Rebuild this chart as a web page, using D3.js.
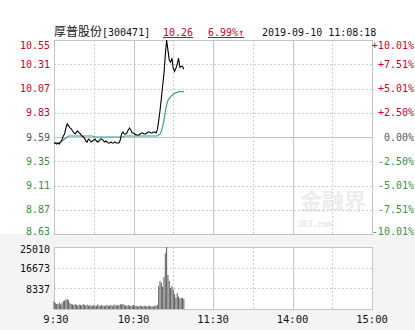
<!DOCTYPE html>
<html>
<head>
<meta charset="utf-8">
<script src="https://cdn.jsdelivr.net/npm/d3@7"></script>
<style>
  body { margin: 0; background: #f4f4f4; }
  svg text { font-family: "DejaVu Sans Mono", monospace; font-size: 10px; }
</style>
</head>
<body>
<div id="chart"></div>
<script>
// ---- data ----
var stockName = '厚普股份';
var stockCode = '[300471]';
var lastPrice = '10.26';
var lastChange = '6.99%↑';
var stamp = '2019-09-10 11:08:18';
var prevClose = 9.59;

var priceTicks = [10.55, 10.31, 10.07, 9.83, 9.59, 9.35, 9.11, 8.87, 8.63];
var pctTicks = ['+10.01%', '+7.51%', '+5.01%', '+2.50%', '0.00%', '-2.50%', '-5.01%', '-7.51%', '-10.01%'];
var volTicks = [25010, 16673, 8337];
var timeLabels = ['9:30', '10:30', '11:30', '14:00', '15:00'];
var timeMinutes = [0, 60, 120, 180, 240];

// one point per minute from 9:30
var price = [
	9.53, 9.53, 9.52, 9.53, 9.52, 9.54, 9.56, 9.60, 9.62, 9.68,
	9.72, 9.70, 9.68, 9.67, 9.65, 9.63, 9.62, 9.64, 9.65, 9.63,
	9.62, 9.60, 9.59, 9.58, 9.55, 9.54, 9.57, 9.56, 9.54, 9.55,
	9.56, 9.57, 9.55, 9.54, 9.55, 9.57, 9.57, 9.56, 9.54, 9.55,
	9.54, 9.53, 9.53, 9.54, 9.53, 9.53, 9.54, 9.53, 9.53, 9.53,
	9.56, 9.62, 9.64, 9.62, 9.62, 9.63, 9.66, 9.68, 9.66, 9.63,
	9.63, 9.62, 9.61, 9.61, 9.61, 9.62, 9.63, 9.63, 9.62, 9.62,
	9.63, 9.64, 9.64, 9.63, 9.63, 9.64, 9.64, 9.63, 9.66, 9.75,
	9.85, 9.97, 10.10, 10.22, 10.40, 10.55, 10.45, 10.35, 10.33, 10.37,
	10.27, 10.24, 10.27, 10.31, 10.37, 10.28, 10.29, 10.29, 10.26
];
var avgPrice = [
	9.53, 9.53, 9.53, 9.53, 9.53, 9.54, 9.55, 9.56, 9.57, 9.58,
	9.59, 9.60, 9.60, 9.60, 9.60, 9.60, 9.60, 9.60, 9.60, 9.60,
	9.60, 9.60, 9.60, 9.60, 9.60, 9.60, 9.60, 9.60, 9.60, 9.60,
	9.59, 9.59, 9.59, 9.59, 9.59, 9.59, 9.59, 9.59, 9.59, 9.59,
	9.59, 9.59, 9.59, 9.59, 9.59, 9.59, 9.59, 9.59, 9.59, 9.59,
	9.59, 9.59, 9.59, 9.60, 9.60, 9.60, 9.60, 9.60, 9.60, 9.60,
	9.60, 9.60, 9.60, 9.60, 9.60, 9.60, 9.60, 9.60, 9.60, 9.60,
	9.60, 9.60, 9.60, 9.60, 9.60, 9.60, 9.60, 9.60, 9.60, 9.61,
	9.62, 9.65, 9.69, 9.76, 9.84, 9.91, 9.95, 9.97, 9.99, 10.00,
	10.01, 10.02, 10.03, 10.03, 10.04, 10.04, 10.04, 10.04, 10.04
];
var volume = [
	3100, 2400, 2000, 2000, 2600, 1800, 2400, 3200, 3400, 3800,
	4000, 3600, 2400, 2000, 1800, 1600, 2000, 1600, 1400, 1800,
	1600, 1400, 2000, 1600, 1400, 1800, 1200, 1600, 1400, 1200,
	1600, 1400, 1200, 1800, 1400, 1200, 1600, 1400, 1200, 1400,
	1600, 1200, 1400, 1600, 1200, 1400, 1800, 1400, 1600, 1400,
	2000, 1800, 2000, 1600, 1400, 1200, 1600, 1400, 1200, 1400,
	1600, 1200, 1400, 1000, 1200, 1400, 1200, 1000, 1400, 1200,
	1000, 1200, 1400, 1000, 1200, 1000, 1200, 1400, 1600, 9200,
	11300, 10500, 9000, 12900, 22500, 25010, 13700, 11300, 8500, 9300,
	8000, 6000, 4500, 6400, 5000, 4200, 4500, 4500, 4000
];

var options = {
	w: 415,
	h: 330,
	main: { left: 54, right: 372, top: 40, bottom: 234 },
	vol: { top: 247, bottom: 309 },
	minutes: 240,
	colors: {
		up: '#d0021b',
		down: '#3e8e3e',
		flat: '#555',
		border: '#c4c4c4',
		grid: '#cfcfcf',
		line: '#000',
		avg: '#3d9c98',
		bar: '#5a5a5a'
	}
};

function labelColor(i){
	if (i < 4) return options.colors.up;
	if (i > 4) return options.colors.down;
	return options.colors.flat;
}

var x = d3.scaleLinear().domain([0, options.minutes]).range([options.main.left, options.main.right]);
var y = d3.scaleLinear().domain([priceTicks[priceTicks.length - 1], priceTicks[0]]).range([options.main.bottom, options.main.top]);
var yVol = d3.scaleLinear().domain([0, volTicks[0]]).range([options.vol.bottom, options.vol.top]);

var svg = d3.select('#chart')
	.append('svg')
	.attr('width', options.w)
	.attr('height', options.h);

// panel backgrounds
svg.append('rect')
	.attr('x', 0).attr('y', 0).attr('width', options.w).attr('height', options.main.bottom)
	.attr('fill', '#fff');
svg.append('rect')
	.attr('x', options.main.left).attr('y', options.vol.top)
	.attr('width', options.main.right - options.main.left)
	.attr('height', options.vol.bottom - options.vol.top)
	.attr('fill', '#fff');

// watermark
svg.append('text')
	.attr('x', 333).attr('y', 209)
	.attr('text-anchor', 'middle')
	.style('font-family', '"Noto Sans CJK SC", sans-serif')
	.style('font-size', '22px')
	.style('font-weight', 'bold')
	.attr('fill', '#ececec')
	.text('金融界');
svg.append('text')
	.attr('x', 298).attr('y', 227)
	.style('font-size', '8px')
	.style('font-weight', 'bold')
	.attr('fill', '#f0e4e4')
	.text('JRJ.com');

// horizontal grid
var hGrid = svg.append('g');
priceTicks.slice(1, -1).forEach(function(p){
	hGrid.append('line')
		.attr('x1', options.main.left).attr('x2', options.main.right)
		.attr('y1', Math.round(y(p)) + .5).attr('y2', Math.round(y(p)) + .5)
		.attr('stroke', p === prevClose ? options.colors.border : options.colors.grid)
		.attr('stroke-dasharray', p === prevClose ? null : '2,2');
});
volTicks.slice(1).forEach(function(v){
	hGrid.append('line')
		.attr('x1', options.main.left).attr('x2', options.main.right)
		.attr('y1', Math.round(yVol(v)) + .5).attr('y2', Math.round(yVol(v)) + .5)
		.attr('stroke', options.colors.grid)
		.attr('stroke-dasharray', '2,2');
});

// vertical grid, solid on the hour marks
[30, 60, 90, 120, 150, 180, 210].forEach(function(m){
	var solid = m % 60 === 0;
	[[options.main.top, options.main.bottom], [options.vol.top, options.vol.bottom]].forEach(function(r){
		svg.append('line')
			.attr('x1', Math.round(x(m)) + .5).attr('x2', Math.round(x(m)) + .5)
			.attr('y1', r[0]).attr('y2', r[1])
			.attr('stroke', solid ? options.colors.border : options.colors.grid)
			.attr('stroke-dasharray', solid ? null : '2,2');
	});
});

// borders
svg.append('rect')
	.attr('x', options.main.left + .5).attr('y', options.main.top + .5)
	.attr('width', options.main.right - options.main.left)
	.attr('height', options.main.bottom - options.main.top)
	.attr('fill', 'none').attr('stroke', options.colors.border);
svg.append('rect')
	.attr('x', options.main.left + .5).attr('y', options.vol.top + .5)
	.attr('width', options.main.right - options.main.left)
	.attr('height', options.vol.bottom - options.vol.top)
	.attr('fill', 'none').attr('stroke', options.colors.border);

// volume bars
svg.append('g')
	.selectAll('rect')
	.data(volume)
	.enter()
	.append('rect')
	.attr('x', function(d, i){ return x(i) - .5; })
	.attr('y', function(d){ return yVol(d); })
	.attr('width', 1)
	.attr('height', function(d){ return yVol(0) - yVol(d); })
	.attr('fill', options.colors.bar);

// price and average lines
var line = d3.line()
	.x(function(d, i){ return x(i); })
	.y(function(d){ return y(d); });

svg.append('path')
	.datum(avgPrice)
	.attr('d', line)
	.attr('fill', 'none')
	.attr('stroke', options.colors.avg)
	.attr('stroke-width', 1.2);

svg.append('path')
	.datum(price)
	.attr('d', line)
	.attr('fill', 'none')
	.attr('stroke', options.colors.line)
	.attr('stroke-width', 1.1);

// price labels (left) and percent labels (right)
function labelY(i, n, pos){
	if (i === 0) return pos + 5;
	if (i === n - 1) return pos - 3;
	return pos;
}
svg.append('g')
	.selectAll('text')
	.data(priceTicks)
	.enter()
	.append('text')
	.attr('x', 50)
	.attr('y', function(d, i){ return labelY(i, priceTicks.length, y(d)); })
	.attr('dy', '.35em')
	.attr('text-anchor', 'end')
	.attr('fill', function(d, i){ return labelColor(i); })
	.text(function(d){ return d.toFixed(2); });

svg.append('g')
	.selectAll('text')
	.data(pctTicks)
	.enter()
	.append('text')
	.attr('x', 414)
	.attr('y', function(d, i){ return labelY(i, pctTicks.length, y(priceTicks[i])); })
	.attr('dy', '.35em')
	.attr('text-anchor', 'end')
	.attr('fill', function(d, i){ return labelColor(i); })
	.text(function(d){ return d; });

// volume labels
svg.append('g')
	.selectAll('text')
	.data(volTicks)
	.enter()
	.append('text')
	.attr('x', 50)
	.attr('y', function(d, i){ return i === 0 ? yVol(d) + 2 : yVol(d) + 1; })
	.attr('dy', '.35em')
	.attr('text-anchor', 'end')
	.attr('fill', '#111')
	.text(function(d){ return d; });

// time labels
svg.append('g')
	.selectAll('text')
	.data(timeLabels)
	.enter()
	.append('text')
	.attr('x', function(d, i){ return x(timeMinutes[i]) + (i === 0 ? 2 : 0); })
	.attr('y', 323)
	.attr('text-anchor', 'middle')
	.attr('fill', '#111')
	.style('font-size', '10.5px')
	.text(function(d){ return d; });

// header
var header = svg.append('g');
var title = header.append('text')
	.attr('x', 54).attr('y', 36)
	.attr('fill', '#111');
title.append('tspan')
	.style('font-family', '"Noto Sans CJK SC", sans-serif')
	.style('font-size', '12px')
	.text(stockName);
title.append('tspan')
	.text(stockCode);
header.append('text')
	.attr('x', 163).attr('y', 36)
	.attr('fill', options.colors.up)
	.attr('text-decoration', 'underline')
	.text(lastPrice);
header.append('text')
	.attr('x', 208).attr('y', 36)
	.attr('fill', options.colors.up)
	.attr('text-decoration', 'underline')
	.text(lastChange);
header.append('text')
	.attr('x', 262).attr('y', 36)
	.attr('fill', '#111')
	.text(stamp);
</script>
</body>
</html>
